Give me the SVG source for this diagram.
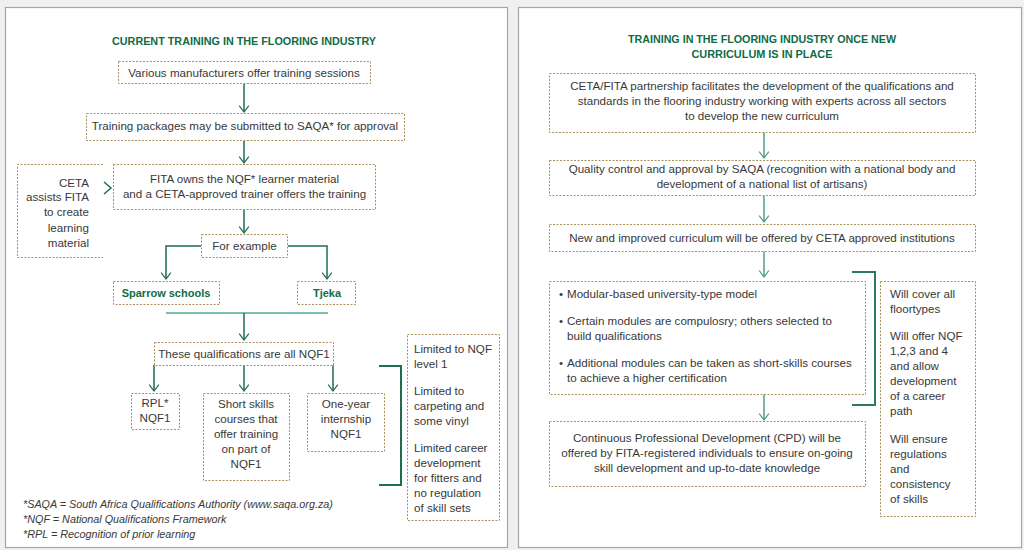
<svg xmlns="http://www.w3.org/2000/svg" width="1024" height="550" viewBox="0 0 1024 550">
<defs>
<style>
.panel{fill:#ffffff;stroke:#a6a6a6;stroke-width:1.2}
.box{fill:#ffffff;stroke:#a8915f;stroke-width:1;stroke-dasharray:2 1.5}
.t{font-family:"Liberation Sans",Arial,sans-serif;font-size:11.6px;fill:#383838}
.c{text-anchor:middle}
.r{text-anchor:end}
.title{font-family:"Liberation Sans",Arial,sans-serif;font-size:11px;font-weight:bold;fill:#0f6b48;text-anchor:middle}
.g{font-family:"Liberation Sans",Arial,sans-serif;font-size:11px;font-weight:bold;fill:#0f6b48;text-anchor:middle}
.fn{font-family:"Liberation Sans",Arial,sans-serif;font-size:10.8px;font-style:italic;fill:#383838}
.a{fill:none;stroke:#1d6d50;stroke-width:1.5;marker-end:url(#ah)}
.a2{fill:none;stroke:#4e9e84;stroke-width:1.5;marker-end:url(#ah2)}
.ln{fill:none;stroke:#1d6d50;stroke-width:1.5}
.br{fill:none;stroke:#1d6d50;stroke-width:2}
</style>
<marker id="ah" viewBox="0 0 10 14" refX="9" refY="7" markerWidth="8" markerHeight="12" markerUnits="userSpaceOnUse" orient="auto">
<path d="M1,1 L9,7 L1,13" fill="none" stroke="#1d6d50" stroke-width="1.5"/>
</marker>
<marker id="ah2" viewBox="0 0 10 14" refX="9" refY="7" markerWidth="8" markerHeight="12" markerUnits="userSpaceOnUse" orient="auto">
<path d="M1,1 L9,7 L1,13" fill="none" stroke="#4e9e84" stroke-width="1.5"/>
</marker>
</defs>
<rect x="0" y="0" width="1024" height="550" fill="#f0f0f0"/>
<rect class="panel" x="5.5" y="7.5" width="502" height="540"/>
<rect class="panel" x="518.5" y="7.5" width="503" height="540"/>

<text class="title" x="244" y="45" textLength="264" lengthAdjust="spacingAndGlyphs">CURRENT TRAINING IN THE FLOORING INDUSTRY</text>
<text class="title" x="762" y="43" textLength="268" lengthAdjust="spacingAndGlyphs">TRAINING IN THE FLOORING INDUSTRY ONCE NEW</text>
<text class="title" x="762" y="58" textLength="141" lengthAdjust="spacingAndGlyphs">CURRICULUM IS IN PLACE</text>

<g id="connectors">
<line class="a" x1="244" y1="84" x2="244" y2="112"/>
<line class="a" x1="244" y1="141" x2="244" y2="163"/>
<polyline class="ln" points="104,182 111,188 104,194"/>
<line class="a" x1="244" y1="209" x2="244" y2="233"/>
<polyline class="a" points="201,246 166,246 166,279"/>
<polyline class="a" points="288,246 327,246 327,279"/>
<line x1="166" y1="313" x2="328" y2="313" stroke="#7dbfad" stroke-width="2"/>
<line class="a" x1="244" y1="313" x2="244" y2="340"/>
<line class="a" x1="154" y1="365" x2="154" y2="391"/>
<line class="a" x1="244" y1="365" x2="244" y2="391"/>
<line class="a" x1="333" y1="365" x2="333" y2="391"/>
<polyline class="br" points="379,366 401,366 401,485 379,485"/>
<line class="a2" x1="764" y1="132" x2="764" y2="158"/>
<line class="a2" x1="764" y1="195" x2="764" y2="222"/>
<line class="a2" x1="764" y1="251" x2="764" y2="277"/>
<line class="a2" x1="764" y1="394" x2="764" y2="420"/>
<polyline points="852,272 875,272 875,405 852,405" fill="none" stroke="#2a7a5c" stroke-width="2"/>
</g>

<g id="n-manufacturers">
<rect class="box" x="118.5" y="61.5" width="252" height="22"/>
<text class="t c" x="244" y="77">Various manufacturers offer training sessions</text>
</g>
<g id="n-packages">
<rect class="box" x="86.5" y="113.5" width="318" height="27"/>
<text class="t c" x="245" y="130">Training packages may be submitted to SAQA* for approval</text>
</g>
<g id="n-ceta">
<polyline class="box" points="103,164.5 17.5,164.5 17.5,257.5 103,257.5" fill="none"/>
<text class="t r" x="89" y="187">CETA</text>
<text class="t r" x="89" y="201">assists FITA</text>
<text class="t r" x="89" y="216">to create</text>
<text class="t r" x="89" y="232">learning</text>
<text class="t r" x="89" y="247">material</text>
</g>
<g id="n-fita">
<rect class="box" x="113.5" y="164.5" width="262" height="45"/>
<text class="t c" x="244.5" y="183">FITA owns the NQF* learner material</text>
<text class="t c" x="244.5" y="198">and a CETA-approved trainer offers the training</text>
</g>
<g id="n-example">
<rect class="box" x="201.5" y="234.5" width="86" height="23"/>
<text class="t c" x="244.5" y="250">For example</text>
</g>
<g id="n-sparrow">
<rect class="box" x="113.5" y="281.5" width="106" height="23"/>
<text class="g" x="166" y="297">Sparrow schools</text>
</g>
<g id="n-tjeka">
<rect class="box" x="297.5" y="281.5" width="58" height="23"/>
<text class="g" x="327" y="297">Tjeka</text>
</g>
<g id="n-nqf1">
<rect class="box" x="154.5" y="342.5" width="179" height="23"/>
<text class="t c" x="244" y="358">These qualifications are all NQF1</text>
</g>
<g id="n-rpl">
<rect class="box" x="131.5" y="393.5" width="48" height="36"/>
<text class="t c" x="155" y="407">RPL*</text>
<text class="t c" x="155" y="422">NQF1</text>
</g>
<g id="n-short">
<rect class="box" x="203.5" y="393.5" width="86" height="87"/>
<text class="t c" x="246" y="408">Short skills</text>
<text class="t c" x="246" y="423">courses that</text>
<text class="t c" x="246" y="438">offer training</text>
<text class="t c" x="246" y="453">on part of</text>
<text class="t c" x="246" y="468">NQF1</text>
</g>
<g id="n-internship">
<rect class="box" x="307.5" y="393.5" width="77" height="58"/>
<text class="t c" x="346" y="408">One-year</text>
<text class="t c" x="346" y="423">internship</text>
<text class="t c" x="346" y="438">NQF1</text>
</g>
<g id="n-limited">
<rect class="box" x="407.5" y="334.5" width="92" height="186"/>
<text class="t" x="414" y="353">Limited to NQF</text>
<text class="t" x="414" y="368">level 1</text>
<text class="t" x="414" y="395">Limited to</text>
<text class="t" x="414" y="410">carpeting and</text>
<text class="t" x="414" y="425">some vinyl</text>
<text class="t" x="414" y="452">Limited career</text>
<text class="t" x="414" y="467">development</text>
<text class="t" x="414" y="482">for fitters and</text>
<text class="t" x="414" y="497">no regulation</text>
<text class="t" x="414" y="512">of skill sets</text>
</g>
<g id="footnotes">
<text class="fn" x="23" y="508">*SAQA = South Africa Qualifications Authority (www.saqa.org.za)</text>
<text class="fn" x="23" y="523">*NQF = National Qualifications Framework</text>
<text class="fn" x="23" y="538">*RPL = Recognition of prior learning</text>
</g>

<g id="n-partnership">
<rect class="box" x="549.5" y="73.5" width="426" height="59"/>
<text class="t c" x="762" y="90">CETA/FITA partnership facilitates the development of the qualifications and</text>
<text class="t c" x="762" y="105">standards in the flooring industry working with experts across all sectors</text>
<text class="t c" x="762" y="120">to develop the new curriculum</text>
</g>
<g id="n-quality">
<rect class="box" x="549.5" y="160.5" width="426" height="35"/>
<text class="t c" x="762" y="173">Quality control and approval by SAQA (recognition with a national body and</text>
<text class="t c" x="762" y="188">development of a national list of artisans)</text>
</g>
<g id="n-curriculum">
<rect class="box" x="549.5" y="224.5" width="426" height="27"/>
<text class="t c" x="762" y="242">New and improved curriculum will be offered by CETA approved institutions</text>
</g>
<g id="n-modular">
<rect class="box" x="549.5" y="281.5" width="316" height="113"/>
<text class="t" x="559" y="298">•</text><text class="t" x="567" y="298">Modular-based university-type model</text>
<text class="t" x="559" y="325">•</text><text class="t" x="567" y="325">Certain modules are compulosry; others selected to</text>
<text class="t" x="567" y="340">build qualifications</text>
<text class="t" x="559" y="367">•</text><text class="t" x="567" y="367">Additional modules can be taken as short-skills courses</text>
<text class="t" x="567" y="382">to achieve a higher certification</text>
</g>
<g id="n-cpd">
<rect class="box" x="549.5" y="421.5" width="316" height="65"/>
<text class="t c" x="707" y="442">Continuous Professional Development (CPD) will be</text>
<text class="t c" x="707" y="457">offered by FITA-registered individuals to ensure on-going</text>
<text class="t c" x="707" y="472">skill development and up-to-date knowledge</text>
</g>
<g id="n-will">
<rect class="box" x="880.5" y="281.5" width="95" height="235"/>
<text class="t" x="890" y="298">Will cover all</text>
<text class="t" x="890" y="313">floortypes</text>
<text class="t" x="890" y="340">Will offer NQF</text>
<text class="t" x="890" y="355">1,2,3 and 4</text>
<text class="t" x="890" y="370">and allow</text>
<text class="t" x="890" y="385">development</text>
<text class="t" x="890" y="400">of a career</text>
<text class="t" x="890" y="415">path</text>
<text class="t" x="890" y="443">Will ensure</text>
<text class="t" x="890" y="458">regulations</text>
<text class="t" x="890" y="473">and</text>
<text class="t" x="890" y="488">consistency</text>
<text class="t" x="890" y="503">of skills</text>
</g>
</svg>
